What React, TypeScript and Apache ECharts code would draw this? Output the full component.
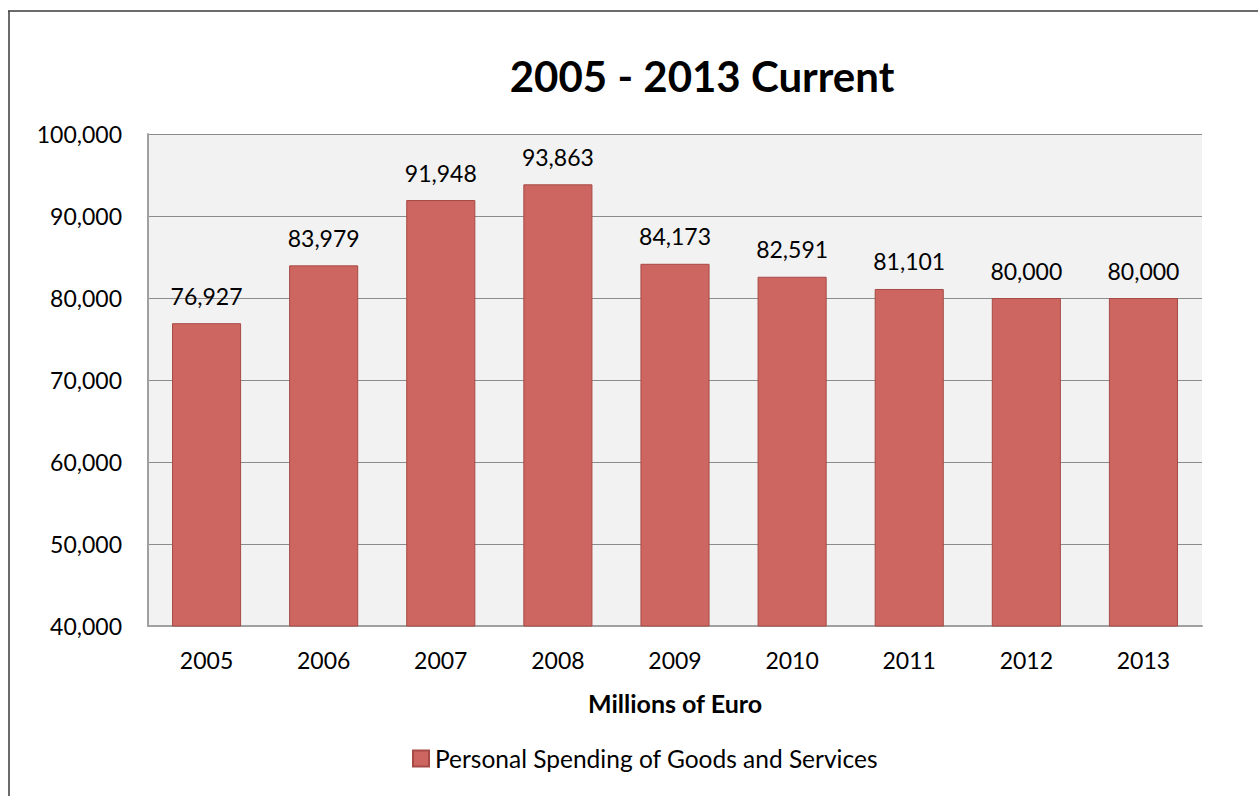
import React, { useEffect, useRef } from "react";
import * as echarts from "echarts";

const years = ["2005", "2006", "2007", "2008", "2009", "2010", "2011", "2012", "2013"];
const spending = [76927, 83979, 91948, 93863, 84173, 82591, 81101, 80000, 80000];
const seriesName = "Personal Spending of Goods and Services";
const titleText = "2005 - 2013 Current";
const xAxisTitle = "Millions of Euro";

const fmt = (v: number) => Number(v).toLocaleString("en-US");
const FONT = "Lato";

export default function App() {
  const ref = useRef<HTMLDivElement>(null);
  useEffect(() => {
    if (!ref.current) return;
    const chart = echarts.init(ref.current, undefined, { renderer: "svg" });
    chart.setOption({
      animation: false,
      backgroundColor: "#ffffff",
      textStyle: { fontFamily: FONT },
      title: {
        text: titleText,
        left: 689,
        top: 42,
        textAlign: "center",
        textStyle: { fontFamily: FONT, fontWeight: "bold", fontSize: 42, color: "#000" },
      },
      graphic: [
        { type: "line", shape: { x1: 0, y1: 3, x2: 1300, y2: 3 }, style: { stroke: "#3a3a3a", lineWidth: 1.5 } },
        { type: "line", shape: { x1: 1, y1: 3, x2: 1, y2: 800 }, style: { stroke: "#3a3a3a", lineWidth: 1.5 } },
      ],
      legend: {
        left: 399,
        top: 733,
        itemWidth: 16,
        itemHeight: 16,
        itemGap: 10,
        icon: "rect",
        textStyle: { fontFamily: FONT, fontSize: 24.5, color: "#000", padding: [0, 0, 0, 1] },
        data: [seriesName],
      },
      grid: {
        left: 140,
        top: 126,
        right: 56,
        bottom: 170,
        show: true,
        backgroundColor: "#f2f2f2",
        borderWidth: 0,
      },
      xAxis: {
        type: "category",
        data: years,
        name: xAxisTitle,
        nameLocation: "middle",
        nameGap: 77,
        nameTextStyle: { fontFamily: FONT, fontWeight: "bold", fontSize: 25, color: "#000", verticalAlign: "middle" },
        axisLine: { show: true, lineStyle: { color: "#a0a0a0", width: 2 } },
        axisTick: { show: false },
        axisLabel: { fontFamily: FONT, fontSize: 23, color: "#000", margin: 22 },
      },
      yAxis: {
        type: "value",
        min: 40000,
        max: 100000,
        interval: 10000,
        axisLine: { show: true, lineStyle: { color: "#a0a0a0", width: 2 } },
        axisTick: { show: false },
        axisLabel: { fontFamily: FONT, fontSize: 23, color: "#000", margin: 26, formatter: (v: number) => fmt(v) },
        splitLine: { show: true, lineStyle: { color: "#8c8c8c", width: 1 } },
      },
      series: [
        {
          name: seriesName,
          type: "bar",
          data: spending,
          barCategoryGap: "41%",
          itemStyle: { color: "#cd6660", borderColor: "#a64a46", borderWidth: 1 },
          label: {
            show: true,
            position: "top",
            distance: 16,
            fontFamily: FONT,
            fontSize: 23,
            color: "#000",
            formatter: (p: any) => fmt(p.value),
          },
        },
      ],
    });
    return () => chart.dispose();
  }, []);
  return <div ref={ref} style={{ position: "absolute", left: 8, top: 8, width: 1250, height: 788 }} />;
}
